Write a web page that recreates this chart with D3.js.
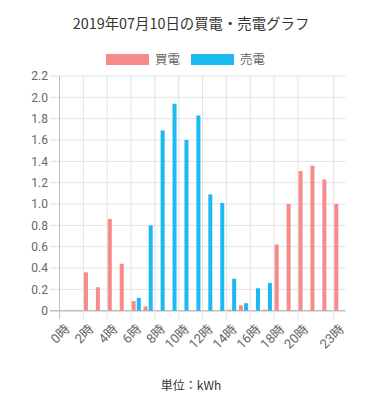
<!DOCTYPE html>
<html><head><meta charset="utf-8">
<script src="https://cdn.jsdelivr.net/npm/d3@7"></script>
<style>body{margin:0;background:#fff;} svg{display:block;}</style>
</head><body>
<svg id="c" width="383" height="400"></svg>
<script>
const hours = d3.range(24);
const hourLabels = hours.map(h => h + "時");
const shownLabels = [0,2,4,6,8,10,12,14,16,18,20,23];
const buyValues  = [0,0,0.36,0.22,0.86,0.44,0.09,0.04,0,0,0,0,0,0,0.01,0.05,0,0.01,0.62,1.00,1.31,1.36,1.23,1.00];
const sellValues = [0,0,0,0,0,0,0.12,0.80,1.69,1.94,1.60,1.83,1.09,1.01,0.30,0.07,0.21,0.26,0,0,0,0,0,0];
const seriesNames = ["買電","売電"];
const seriesColors = ["#f58b8b","#1dbaf2"];
const yTicks = [0,0.2,0.4,0.6,0.8,1.0,1.2,1.4,1.6,1.8,2.0,2.2];
const title = "2019年07月10日の買電・売電グラフ";
const unitLabel = "単位：kWh";

const svg = d3.select("#c");
const font = "Roboto, 'Noto Sans CJK JP', sans-serif";
const pLeft = 59.5, pRight = 345.6, pTop = 76, pBottom = 310.7;

const x = d3.scaleBand().domain(hours).range([pLeft, pRight]).padding(0);
const x1 = d3.scaleBand().domain([0,1]).range([0.6, x.bandwidth()*0.82]).paddingInner(0.22);
const y = d3.scaleLinear().domain([0, 2.2]).range([pBottom, pTop]);

// horizontal grid
svg.append("g").selectAll("line").data(yTicks).join("line")
  .attr("x1", pLeft - 9.5).attr("x2", pRight)
  .attr("y1", d => y(d)).attr("y2", d => y(d))
  .attr("stroke", d => d === 0 ? "#bdbdbd" : "#e2e2e2").attr("stroke-width", d => d===0?1.5:1);
// vertical grid
svg.append("g").selectAll("line").data(shownLabels).join("line")
  .attr("x1", d => x(d)).attr("x2", d => x(d))
  .attr("y1", pTop).attr("y2", pBottom + 8)
  .attr("stroke", d => d === 0 ? "#bdbdbd" : "#e2e2e2");
// y axis line
svg.append("line").attr("x1", pLeft).attr("x2", pLeft).attr("y1", pTop).attr("y2", pBottom)
  .attr("stroke", "#bdbdbd");

// y labels
svg.append("g").selectAll("text").data(yTicks).join("text")
  .attr("x", 48).attr("y", d => y(d)).attr("dy", "0.35em")
  .attr("text-anchor", "end").attr("font-family", font).attr("font-size", 12).attr("fill", "#666")
  .text(d => d === 0 ? "0" : d3.format(".1f")(d));

// x labels
svg.append("g").selectAll("text").data(shownLabels).join("text")
  .attr("transform", d => `translate(${x(d) + x.bandwidth()/2 + 2},${pBottom + 16}) rotate(-45)`)
  .attr("text-anchor", "end").attr("dy", "0.35em")
  .attr("font-family", font).attr("font-size", 13).attr("fill", "#666")
  .text(d => hourLabels[d]);

// bars
const series = [buyValues, sellValues];
series.forEach((vals, si) => {
  svg.append("g").selectAll("rect").data(hours).join("rect")
    .attr("x", h => x(h) + x1(si))
    .attr("width", x1.bandwidth())
    .attr("y", h => y(vals[h]))
    .attr("height", h => y(0) - y(vals[h]))
    .attr("fill", seriesColors[si]);
});

// title
svg.append("text").attr("x", 191).attr("y", 29).attr("text-anchor", "middle")
  .attr("font-family", "'Noto Sans CJK JP', sans-serif").attr("font-size", 14.4).attr("fill", "#333")
  .text(title);

// legend
const legendX = [106, 191];
seriesNames.forEach((n, i) => {
  svg.append("rect").attr("x", legendX[i]).attr("y", 54).attr("width", 43).attr("height", 11)
    .attr("fill", seriesColors[i]);
  svg.append("text").attr("x", legendX[i] + 49).attr("y", 59.5).attr("dy", "0.35em")
    .attr("font-family", "'Noto Sans CJK JP', sans-serif").attr("font-size", 12.5).attr("fill", "#666")
    .text(n);
});

// unit label
svg.append("text").attr("x", 191).attr("y", 390).attr("text-anchor", "middle")
  .attr("font-family", "'Noto Sans CJK JP', sans-serif").attr("font-size", 12).attr("fill", "#333")
  .text(unitLabel);
</script>
</body></html>
